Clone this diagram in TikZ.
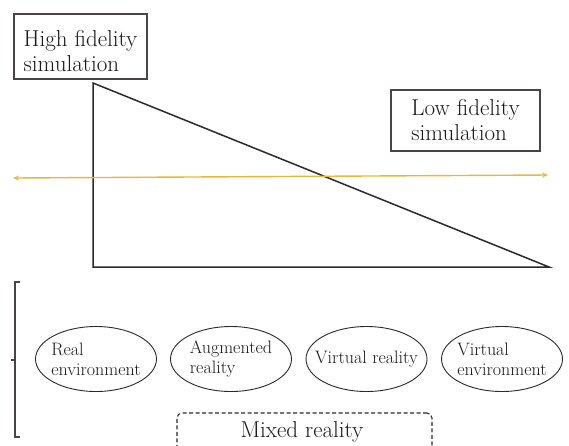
\documentclass[tikz,border=0pt]{standalone}
\usetikzlibrary{shapes.geometric,arrows.meta}
\definecolor{gold}{HTML}{F0B43C}
\definecolor{edge}{HTML}{2A2A2A}
\definecolor{boxline}{HTML}{4A4444}
\tikzset{
  labelbox/.style={draw=boxline, line width=1.1pt, rectangle, inner sep=0pt, align=left,
    font=\fontsize{23}{25}\selectfont, text=black!90},
  envir/.style={draw=edge, line width=0.9pt, ellipse, inner xsep=-12pt, inner ysep=-4pt, minimum width=121pt,
    minimum height=65pt, align=left, font=\fontsize{18}{20}\selectfont, text=black!90},
  mixbox/.style={draw=edge, line width=1.1pt, dash pattern=on 4pt off 2.5pt, rounded corners=5pt,
    rectangle, inner sep=0pt},
  tri/.style={draw=edge, line width=1.5pt, line join=miter},
  goldarrow/.style={draw=gold, line width=1.4pt, {Stealth[length=6pt,width=5pt]}-{Stealth[length=6pt,width=5pt]}},
  brace/.style={draw=boxline, line width=1.1pt}
}
\begin{document}
\begin{tikzpicture}[x=1pt,y=-1pt]
\clip (0,0) rectangle (569,445);
\fill[white] (0,0) rectangle (569,445);
% triangle
\coordinate (t1) at (93,83);
\coordinate (t2) at (93,267);
\coordinate (t3) at (549,267);
\draw[tri] (t1) -- (t2) -- (t3) -- cycle;
% labels
\node[labelbox, minimum width=133pt, minimum height=65pt] (hi) at (80.5,46.5) {\rule{0pt}{26pt}High fidelity\\simulation};
\node[labelbox, minimum width=149pt, minimum height=61pt] (lo) at (465.5,120.5) {Low fidelity\\simulation};
% gold arrow
\coordinate (al) at (13,178);
\coordinate (ar) at (548,175);
\draw[goldarrow] (al) -- (ar);
% bracket
\coordinate (b1) at (20,282);
\coordinate (b2) at (15,282);
\coordinate (b3) at (15,437);
\coordinate (b4) at (20,437);
\coordinate (bm) at (15,360);
\coordinate (bt) at (11,360);
\draw[brace] (b1) -- (b2) -- (b3) -- (b4);
\draw[brace] (bm) -- (bt);
% ellipses
\node[envir] (e1) at (96,359) {Real\\environment};
\node[envir] (e2) at (231,359) {Augmented\\reality};
\node[envir] (e3) at (366.5,359) {Virtual reality};
\node[envir] (e4) at (502,359) {Virtual\\environment};
% mixed reality
\node[mixbox, minimum width=255pt, minimum height=50pt] (mix) at (304.5,438) {};
\node[font=\fontsize{23}{25}\selectfont, text=black!90, anchor=base, inner sep=0pt] (mixt) at (302,437) {Mixed reality};
\end{tikzpicture}
\end{document}
